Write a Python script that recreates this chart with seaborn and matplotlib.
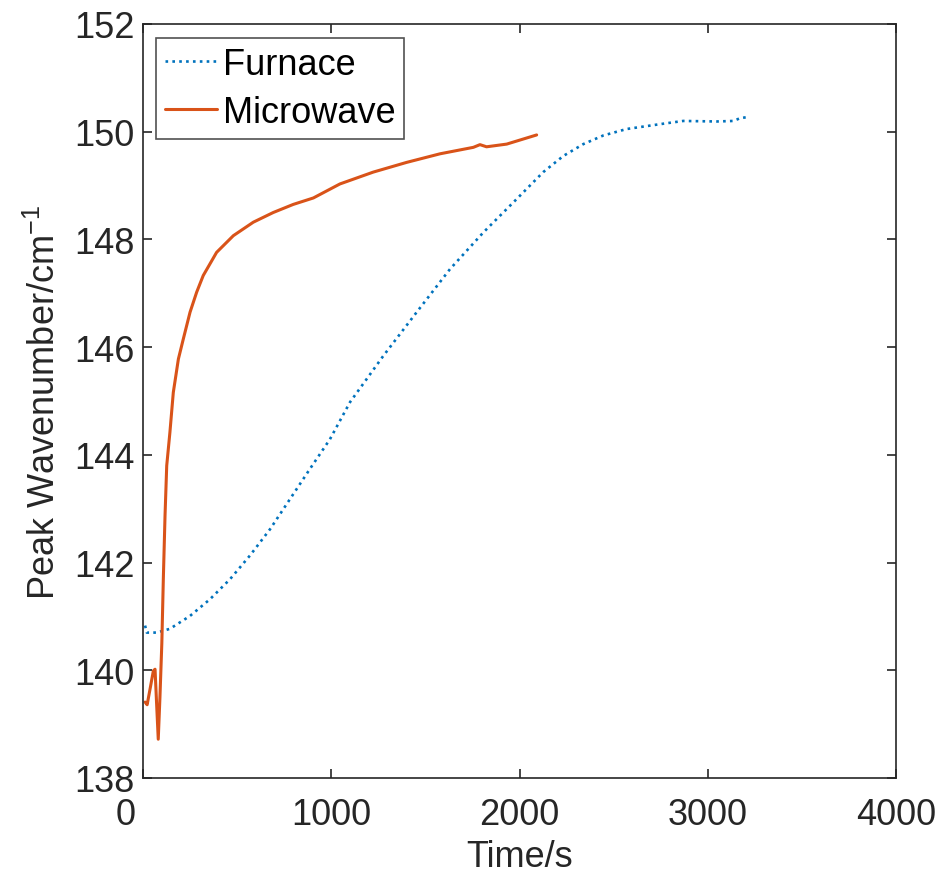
import matplotlib
matplotlib.use("Agg")
import matplotlib.pyplot as plt
import matplotlib.transforms as mtransforms
from matplotlib import font_manager
import seaborn as sns
import pandas as pd

# ---- data ----
furnace_time = [11, 20, 73, 143, 250, 356, 462, 568, 675, 781, 887, 993, 1100,
                1277, 1454, 1631, 1808, 1985, 2126, 2233, 2339, 2445, 2569,
                2746, 2870, 3047, 3136, 3171, 3207]
furnace_peak = [140.83, 140.70, 140.70, 140.77, 141.01, 141.32, 141.69, 142.13,
                142.62, 143.18, 143.74, 144.29, 144.98, 145.84, 146.65, 147.45,
                148.13, 148.75, 149.25, 149.55, 149.77, 149.93, 150.05, 150.14,
                150.20, 150.19, 150.20, 150.25, 150.27]

microwave_time = [11, 22, 40, 55, 64, 72, 81, 90, 100, 108, 117, 126, 143, 161,
                  188, 214, 250, 285, 320, 391, 480, 586, 692, 798, 905, 1046,
                  1223, 1400, 1578, 1755, 1790, 1825, 1932, 2091]
microwave_peak = [139.41, 139.36, 139.70, 139.99, 140.02, 139.40, 138.72, 139.50,
                  140.50, 141.70, 142.87, 143.80, 144.42, 145.16, 145.78, 146.15,
                  146.65, 147.02, 147.33, 147.76, 148.07, 148.32, 148.50, 148.65,
                  148.77, 149.03, 149.25, 149.43, 149.59, 149.71, 149.76, 149.72,
                  149.77, 149.94]

x_ticks = [0, 1000, 2000, 3000, 4000]
y_ticks = [138, 140, 142, 144, 146, 148, 150, 152]

furnace_df = pd.DataFrame({"Time": furnace_time, "Peak": furnace_peak})
microwave_df = pd.DataFrame({"Time": microwave_time, "Peak": microwave_peak})

sns.set_theme(style="white")
avail = {f.name for f in font_manager.fontManager.ttflist}
main_font = "Liberation Sans" if "Liberation Sans" in avail else "DejaVu Sans"
label_font = "Liberation Sans Narrow" if "Liberation Sans Narrow" in avail else main_font
plt.rcParams["font.family"] = [main_font, "DejaVu Sans"]
plt.rcParams["mathtext.default"] = "regular"

fig = plt.figure(figsize=(9.41, 8.79), dpi=100)
ax = fig.add_axes([143 / 941, 1 - 779 / 879, (896 - 143) / 941, (779 - 25) / 879])

sns.lineplot(data=furnace_df, x="Time", y="Peak", ax=ax, color="#0072BD",
             linewidth=1.9, linestyle=(0, (1, 1.6)), label="Furnace", sort=False)
sns.lineplot(data=microwave_df, x="Time", y="Peak", ax=ax, color="#D95319",
             linewidth=2.2, label="Microwave", sort=False)

ax.set_xlim(0, 4000)
ax.set_ylim(138, 152)
ax.set_xticks(x_ticks)
ax.set_yticks(y_ticks)
ax.tick_params(axis="both", which="both", direction="in", length=6.5, width=1.2,
               labelsize=26, colors="#262626", top=True, right=True,
               bottom=True, left=True, pad=6)
ax.tick_params(axis="x", pad=14)
for s in ax.spines.values():
    s.set_color("#262626")
    s.set_linewidth(1.2)

ax.set_xlabel("Time/s", fontsize=26, color="#262626", family=[label_font, "DejaVu Sans"], labelpad=5)
ax.set_ylabel("Peak Wavenumber/cm$^{-1}$", fontsize=26, color="#262626",
              family=[label_font, "DejaVu Sans"], labelpad=8)

# shift the "0" tick label slightly left as in the reference
fig.canvas.draw()
lab0 = ax.get_xticklabels()[0]
lab0.set_transform(lab0.get_transform() +
                   mtransforms.ScaledTranslation(-17 / 100, 0, fig.dpi_scale_trans))

leg = ax.legend(loc="upper left", bbox_to_anchor=(13 / 753, 1 - 14 / 754),
                fontsize=26, frameon=True, fancybox=False, handlelength=1.45,
                handletextpad=0.15, borderpad=0.25, labelspacing=0.35,
                borderaxespad=0.0)
leg.get_frame().set_edgecolor("#262626")
leg.get_frame().set_linewidth(1.2)
for t in leg.get_texts():
    t.set_color("black")

fig.savefig("out.png", dpi=100)
